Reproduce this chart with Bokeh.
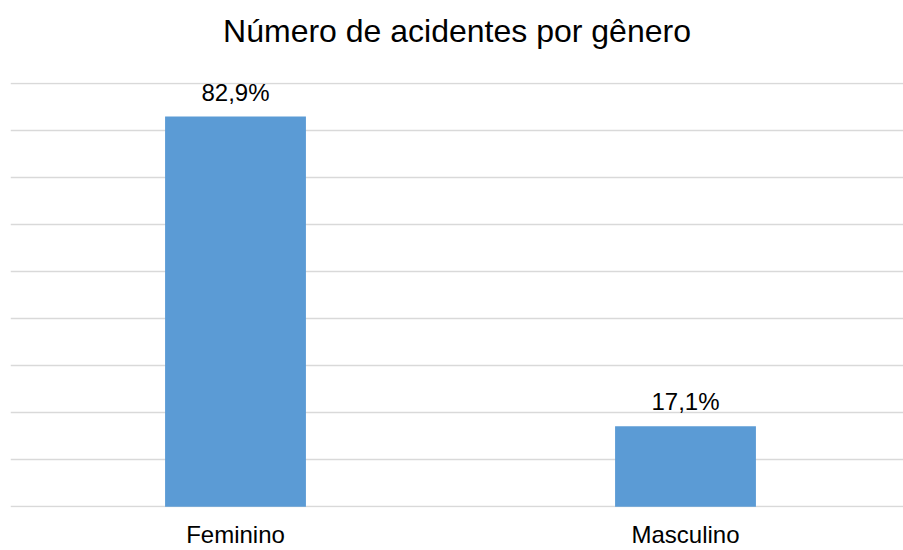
from bokeh.plotting import figure
from bokeh.models import Range1d, FixedTicker, ColumnDataSource, LabelSet, Title
from bokeh.core.properties import value
from bokeh.embed import file_html
from bokeh.resources import INLINE

categories = ["Feminino", "Masculino"]
percentages = [82.9, 17.1]
y_ticks = [0, 10, 20, 30, 40, 50, 60, 70, 80, 90]
title_text = "Número de acidentes por gênero"

FONT = "Liberation Sans"

xs = [i + 0.5 for i in range(len(categories))]
labels = [f"{v:.1f}".replace(".", ",") + "%" for v in percentages]
src = ColumnDataSource(dict(x=xs, top=percentages, label=labels))

p = figure(width=903, height=550, output_backend="svg", toolbar_location=None,
           x_range=Range1d(0, 893 / 450), y_range=Range1d(-0.15, 90.15),
           title=title_text,
           min_border_left=10, min_border_right=0, min_border_top=82, min_border_bottom=0)

# spacer between title and plot area
p.add_layout(Title(text=" ", text_font_size="1px", standoff=21, text_color="white"), "above")

p.vbar(x="x", top="top", width=0.313, source=src, color="#5b9bd5", line_color=None)
p.add_layout(LabelSet(x="x", y="top", text="label", source=src, text_align="center",
                      text_baseline="alphabetic", y_offset=16, text_font=value(FONT),
                      text_font_size=value("24px"), text_color=value("#000000")))

p.title.text_font = FONT
p.title.text_font_size = "32px"
p.title.text_font_style = "normal"
p.title.align = "center"
p.title.text_color = "#000000"
p.title.standoff = 20

p.yaxis.visible = False
p.yaxis.ticker = FixedTicker(ticks=y_ticks)
p.ygrid.ticker = FixedTicker(ticks=y_ticks)
p.ygrid.grid_line_color = "#d9d9d9"
p.ygrid.grid_line_width = 1.5
p.xgrid.visible = False

p.xaxis.ticker = FixedTicker(ticks=xs)
p.xaxis.major_label_overrides = {x: c for x, c in zip(xs, categories)}
p.xaxis.axis_line_color = None
p.xaxis.major_tick_line_color = None
p.xaxis.minor_tick_line_color = None
p.xaxis.major_tick_out = 0
p.xaxis.major_tick_in = 0
p.xaxis.major_label_standoff = 13
p.xaxis.major_label_text_font = FONT
p.xaxis.major_label_text_font_size = "24px"
p.xaxis.major_label_text_color = "#000000"

p.outline_line_color = None
p.background_fill_color = "white"
p.border_fill_color = "white"

open("out.html", "w").write(file_html(p, INLINE))
